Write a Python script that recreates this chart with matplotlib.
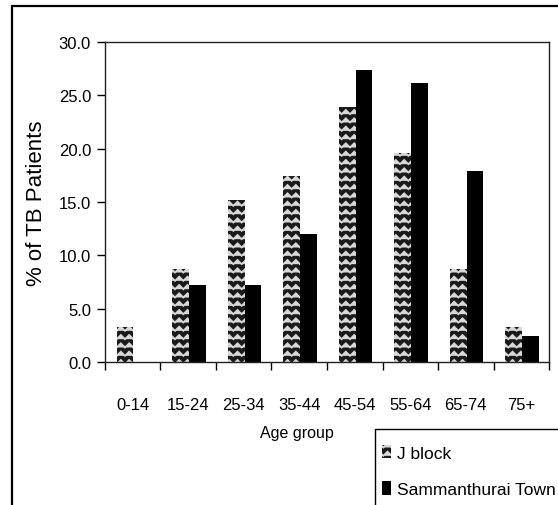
import warnings
import numpy as np
import matplotlib
matplotlib.use("Agg")
import matplotlib.pyplot as plt
import matplotlib.hatch as mhatch
from matplotlib.path import Path
from matplotlib.patches import Rectangle
from matplotlib.ticker import FormatStrFormatter

warnings.filterwarnings("ignore")

age_groups = ["0-14", "15-24", "25-34", "35-44", "45-54", "55-64", "65-74", "75+"]
j_block = [3.3, 8.7, 15.2, 17.4, 23.9, 19.6, 8.7, 3.3]
sammanthurai = [0.0, 7.2, 7.2, 12.0, 27.4, 26.2, 17.9, 2.4]
series_names = ["J block", "Sammanthurai Town"]


# zigzag hatch for the J block bars (matplotlib has none built in)
class ZigzagHatch(mhatch.HatchPatternBase):
    def __init__(self, hatch, density):
        self.num_rows = int(hatch.count("z") * density)
        self.pts = 2 * self.num_rows + 1
        self.num_vertices = self.num_rows * self.pts

    def set_vertices_and_codes(self, vertices, codes):
        n = self.num_rows
        step = 1.0 / n
        xs = np.linspace(0, 1, self.pts)
        for i in range(n):
            ys = (i + 0.3) * step + 0.5 * step * (np.arange(self.pts) % 2)
            vertices[i * self.pts:(i + 1) * self.pts, 0] = xs
            vertices[i * self.pts:(i + 1) * self.pts, 1] = ys
            codes[i * self.pts] = Path.MOVETO
            codes[i * self.pts + 1:(i + 1) * self.pts] = Path.LINETO


mhatch._hatch_types.append(ZigzagHatch)

plt.rcParams["font.family"] = ["Liberation Sans", "DejaVu Sans"]
plt.rcParams["hatch.linewidth"] = 1.3

W, H = 558, 506
fig = plt.figure(figsize=(W / 100, H / 100), dpi=100)
ax = fig.add_axes([0.188, 0.283, 0.796, 0.632])

x = np.arange(len(age_groups))
w = 0.3
ax.bar(x - 0.135, j_block, w, facecolor="#1a1a1a", edgecolor="#d8d8d8",
       linewidth=0, hatch="zz", label=series_names[0])
ax.bar(x + 0.165, sammanthurai, w, color="black", linewidth=0,
       label=series_names[1])

ax.set_xlim(-0.5, len(age_groups) - 0.5)
ax.set_ylim(0, 30)
ax.set_yticks(np.arange(0, 31, 5))
ax.yaxis.set_major_formatter(FormatStrFormatter("%.1f"))
ax.set_xticks(x)
ax.set_xticklabels(age_groups)
ax.set_xticks(np.arange(-0.5, len(age_groups), 1), minor=True)
ax.tick_params(axis="x", which="major", length=0, pad=25, labelsize=12)
ax.tick_params(axis="x", which="minor", length=6, width=1, direction="out")
ax.tick_params(axis="y", length=6, width=1, direction="out", pad=4, labelsize=12)

for s in ax.spines.values():
    s.set_linewidth(1)
    s.set_color("#222222")

ax.set_ylabel("% of TB Patients", fontsize=16)
ax.yaxis.set_label_coords(-0.131, 0.5)
ax.set_xlabel("Age group", fontsize=11.5)
ax.xaxis.set_label_coords(0.432, -0.222)
ax.xaxis.label.set_va("center")

# legend box runs off the right and bottom edges, so draw its frame separately
fig.legend(loc="upper left", bbox_to_anchor=(375 / W, 1 - 439 / H),
           frameon=False, fontsize=12.5, handlelength=0.5, handleheight=0.8,
           handletextpad=0.35, labelspacing=1.2, borderpad=0.4, borderaxespad=0)
fig.add_artist(Rectangle((375 / W, -0.1), 0.5, 0.1 + 1 - 430 / H,
                         transform=fig.transFigure, fill=False,
                         edgecolor="black", linewidth=1))

# outer chart border
fig.add_artist(Rectangle((12 / W, -0.1), 1.0, 1.1 - 7 / H, transform=fig.transFigure,
                         fill=False, edgecolor="black", linewidth=1.6))

fig.savefig("out.png", dpi=100)
